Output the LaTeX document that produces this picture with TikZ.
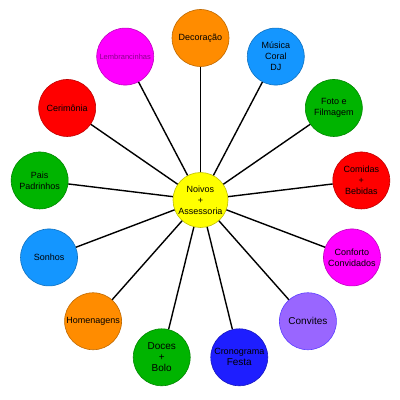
\documentclass[tikz,border=0pt]{standalone}
\usepackage{fontspec}
\setmainfont{Liberation Sans}
\usetikzlibrary{calc}
\definecolor{corange}{HTML}{FF8C00}
\definecolor{cmag}{HTML}{FF00FF}
\definecolor{cazure}{HTML}{1496FF}
\definecolor{cgreen}{HTML}{00B400}
\definecolor{cred}{HTML}{FF0000}
\definecolor{cpurple}{HTML}{9966FF}
\definecolor{cblue}{HTML}{1E1EFF}
\definecolor{cyellow}{HTML}{FFFF00}
\tikzset{
  bubble/.style={circle, minimum size=57pt, inner sep=0pt, align=center,
    font=\fontsize{9}{11}\selectfont, fill=#1, draw=#1!75!black, line width=0.6pt},
  hub/.style={circle, minimum size=55pt, inner sep=0pt, align=center,
    font=\fontsize{9}{11}\selectfont, fill=cyellow, draw=cyellow!75!black, line width=0.6pt},
  spoke/.style={line width=1.4pt, black}
}
\begin{document}
\begin{tikzpicture}
\useasboundingbox[fill=white] (0,0) rectangle (400pt,400pt);
\coordinate (O) at (200.5pt,200pt);
\node[hub] (hub) at (O) {Noivos\\+\\Assessoria};
\def\st{27.6923}
\node[bubble=corange] (n0) at ($(O)+(90:162pt)$) {Decoração};
\node[bubble=cazure] (n1) at ($(O)+({90-\st}:162pt)$) {Música\\Coral\\DJ};
\node[bubble=cgreen] (n2) at ($(O)+({90-2*\st}:162pt)$) {Foto e\\Filmagem};
\node[bubble=cred] (n3) at ($(O)+({90-3*\st}:162pt)$) {Comidas\\+\\Bebidas};
\node[bubble=cmag] (n4) at ($(O)+({90-4*\st}:162pt)$) {Conforto\\Convidados};
\node[bubble=cpurple, draw=cpurple!60!blue] (n5) at ($(O)+({90-5*\st}:162pt)$) {\fontsize{10}{12}\selectfont Convites};
\node[bubble=cblue] (n6) at ($(O)+({90-6*\st}:162pt)$) {Cronograma\\\fontsize{10}{12}\selectfont Festa};
\node[bubble=cgreen] (n7) at ($(O)+({90-7*\st}:162pt)$) {\fontsize{10}{12}\selectfont Doces\\\fontsize{10}{12}\selectfont +\\\fontsize{10}{12}\selectfont Bolo};
\node[bubble=corange] (n8) at ($(O)+({90-8*\st}:162pt)$) {Homenagens};
\node[bubble=cazure] (n9) at ($(O)+({90-9*\st}:162pt)$) {Sonhos};
\node[bubble=cgreen] (n10) at ($(O)+({90-10*\st}:162pt)$) {Pais\\Padrinhos};
\node[bubble=cred] (n11) at ($(O)+({90-11*\st}:162pt)$) {Cerimônia};
\node[bubble=cmag, font=\fontsize{7.5}{9}\selectfont, text=black!45!cmag] (n12) at ($(O)+({90-12*\st}:162pt)$) {Lembrancinhas};
\foreach \i in {0,...,12} {\draw[spoke] (hub) -- (n\i);}
\end{tikzpicture}
\end{document}
